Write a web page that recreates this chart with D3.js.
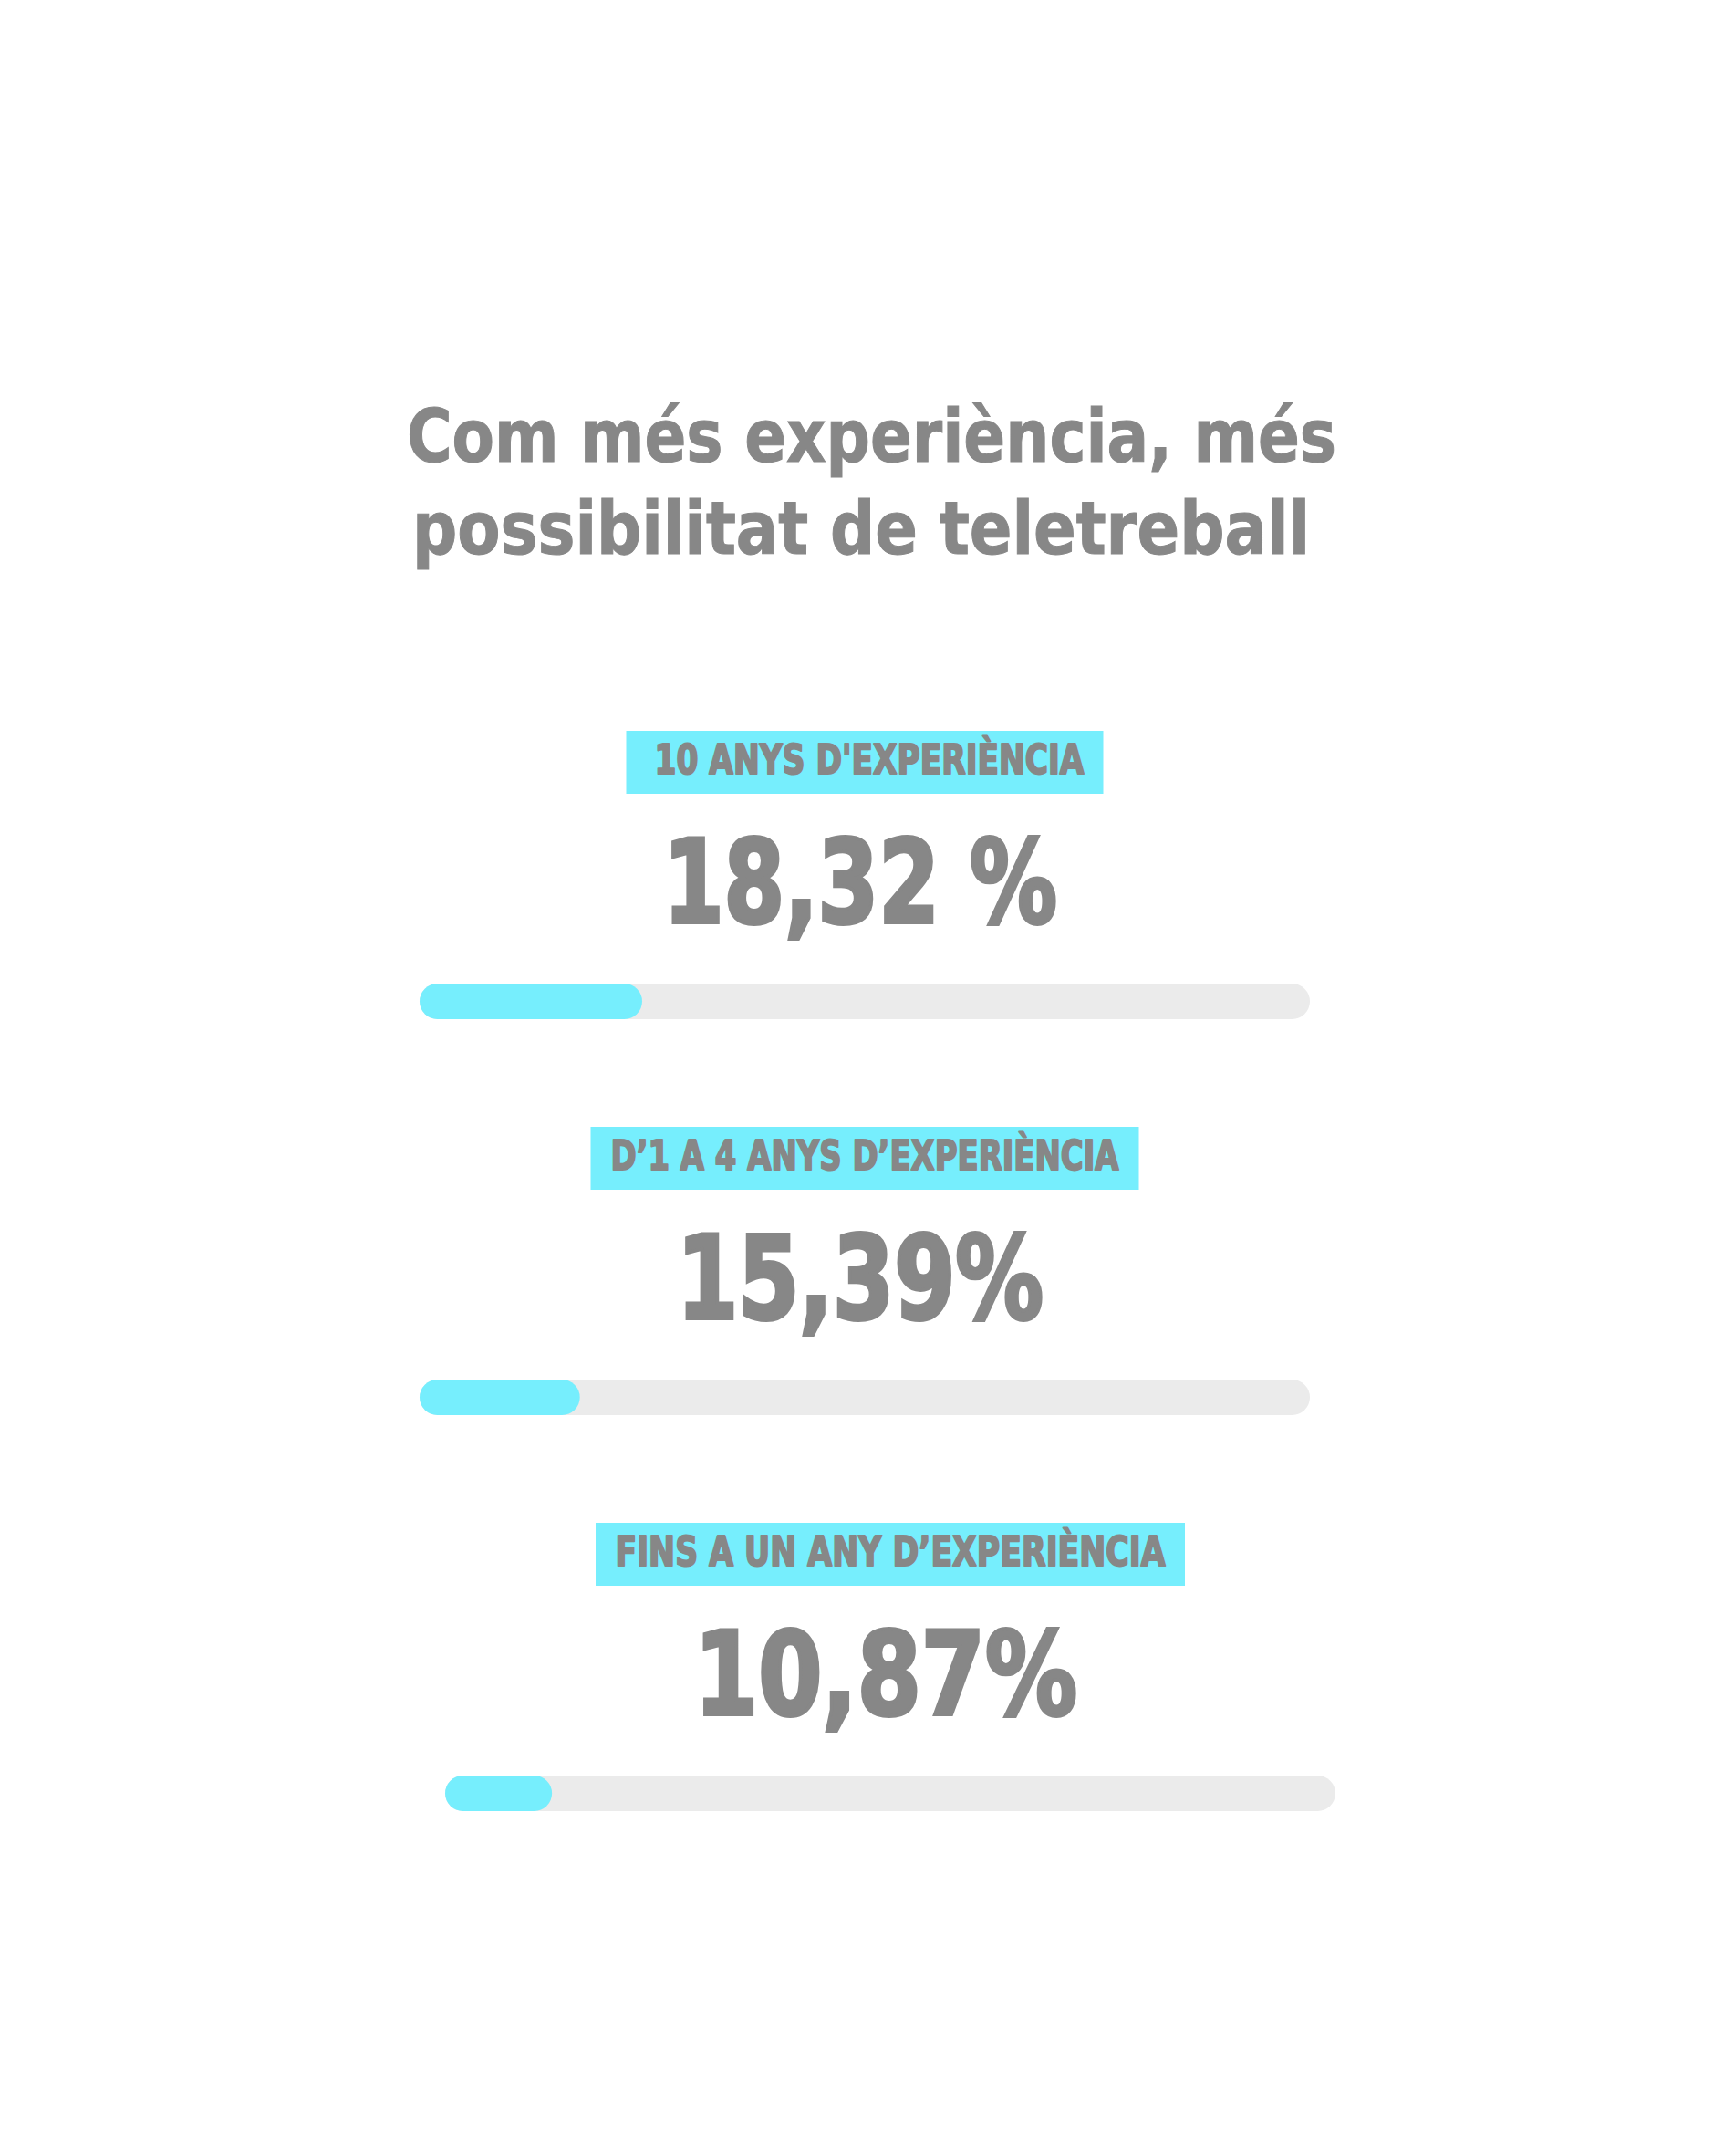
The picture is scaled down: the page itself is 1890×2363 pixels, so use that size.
<!DOCTYPE html>
<html>
<head>
<meta charset="utf-8">
<script src="https://cdn.jsdelivr.net/npm/d3@7"></script>
<style>
  html, body { margin: 0; padding: 0; background: #ffffff; }
  svg { display: block; }
</style>
</head>
<body>
<div id="chart"></div>
<script>
// ---- Data ----
const titleLines = ["Com més experiència, més", "possibilitat de teletreball"];
const categories = ["10 ANYS D'EXPERIÈNCIA", "D’1 A 4 ANYS D’EXPERIÈNCIA", "FINS A UN ANY D’EXPERIÈNCIA"];
const values = [18.32, 15.39, 10.87];
const valueLabels = ["18,32 %", "15,39%", "10,87%"];
// fill of each progress bar as drawn in the picture, in % of the track
const barLevels = [25, 18, 12];

// ---- Layout / style ----
const W = 1890, H = 2363;
const GRAY = "#878787", CYAN = "#76EEFD", TRACK = "#EBEBEB";
const sectionCenters = [948, 948, 976];
const labelBoxWidths = [523, 601, 646];
const labelTextWidths = [471, 557, 603];
const valueTextWidths = [432, 402, 420];
const titleLayout = [{x: 446, y: 506, w: 1019}, {x: 452, y: 607, w: 984}];

const svg = d3.select("#chart").append("svg")
  .attr("width", W).attr("height", H)
  .attr("viewBox", `0 0 ${W} ${H}`);

svg.append("rect").attr("width", W).attr("height", H).attr("fill", "#fff");

// Title
svg.append("g").selectAll("text").data(titleLines).join("text")
  .attr("x", (d, i) => titleLayout[i].x)
  .attr("y", (d, i) => titleLayout[i].y)
  .attr("textLength", (d, i) => titleLayout[i].w)
  .attr("lengthAdjust", "spacingAndGlyphs")
  .attr("font-family", "'DejaVu Sans Condensed', 'DejaVu Sans', sans-serif")
  .attr("font-stretch", "condensed")
  .attr("font-weight", "bold")
  .attr("font-size", 80)
  .attr("fill", GRAY)
  .attr("stroke", GRAY)
  .attr("stroke-width", 1)
  .text(d => d);

// Vertical placement of the sections
const yPos = d3.scalePoint().domain(categories).range([801, 1669]);

const trackHalf = 488, trackH = 39;
const xFill = d3.scaleLinear().domain([0, 100]).range([0, trackHalf * 2]);

const sec = svg.append("g").selectAll("g").data(categories).join("g")
  .attr("transform", (d, i) => `translate(${sectionCenters[i]},${yPos(d)})`);

// label box
sec.append("rect")
  .attr("x", (d, i) => -labelBoxWidths[i] / 2)
  .attr("y", 0)
  .attr("width", (d, i) => labelBoxWidths[i])
  .attr("height", 69)
  .attr("fill", CYAN);

sec.append("text")
  .attr("x", (d, i) => -labelTextWidths[i] / 2 + (i === 0 ? 5 : 0))
  .attr("y", 47)
  .attr("textLength", (d, i) => labelTextWidths[i])
  .attr("lengthAdjust", "spacingAndGlyphs")
  .attr("font-family", "'Liberation Sans Narrow', 'DejaVu Sans Condensed', 'DejaVu Sans', sans-serif")
  .attr("font-weight", "bold")
  .attr("font-size", 45)
  .attr("fill", GRAY)
  .attr("stroke", GRAY)
  .attr("stroke-width", 2)
  .attr("stroke-linejoin", "round")
  .text(d => d);

// value
sec.append("text")
  .attr("x", (d, i) => -valueTextWidths[i] / 2 - 5)
  .attr("y", 210)
  .attr("textLength", (d, i) => valueTextWidths[i])
  .attr("lengthAdjust", "spacingAndGlyphs")
  .attr("font-family", "'DejaVu Sans Condensed', 'DejaVu Sans', sans-serif")
  .attr("font-weight", "bold")
  .attr("font-size", 126)
  .attr("fill", GRAY)
  .attr("stroke", GRAY)
  .attr("stroke-width", 4)
  .attr("stroke-linejoin", "miter")
  .text((d, i) => valueLabels[i]);

// progress track
sec.append("rect")
  .attr("x", -trackHalf)
  .attr("y", 277)
  .attr("width", xFill(100))
  .attr("height", trackH)
  .attr("rx", trackH / 2)
  .attr("fill", TRACK);

// progress fill
sec.append("rect")
  .attr("x", -trackHalf)
  .attr("y", 277)
  .attr("width", (d, i) => xFill(barLevels[i]))
  .attr("height", trackH)
  .attr("rx", trackH / 2)
  .attr("fill", CYAN);
</script>
</body>
</html>
